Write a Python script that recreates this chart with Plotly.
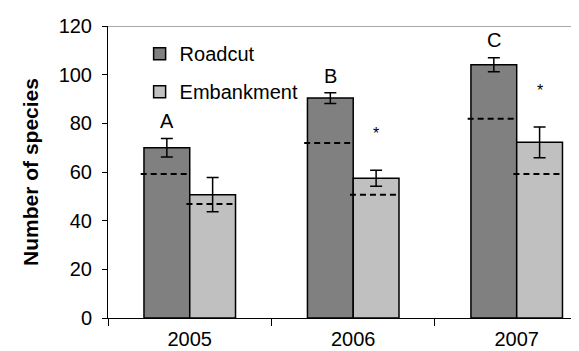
import plotly.graph_objects as go

years = ["2005", "2006", "2007"]
roadcut = [70, 90.4, 104.1]
roadcut_err = [3.8, 2.2, 2.9]
embankment = [50.7, 57.4, 72.2]
embankment_err = [7.0, 3.3, 6.3]
roadcut_dash = [59.2, 71.9, 81.9]
embankment_dash = [46.9, 50.7, 59.2]
roadcut_letters = ["A", "B", "C"]
roadcut_letter_y = [81, 99.3, 114.4]
embankment_marks = ["", "*", "*"]
embankment_mark_y = [0, 76, 93.5]

FONT = "Arial, Liberation Sans, sans-serif"
W = 0.28  # bar width in category units

fig = go.Figure()
fig.add_trace(go.Bar(
    name="Roadcut", x=years, y=roadcut, marker=dict(color="#808080", line=dict(color="black", width=1.5)),
    error_y=dict(type="data", array=roadcut_err, color="black", thickness=1.5, width=6),
    legendgroup="r",
))
fig.add_trace(go.Bar(
    name="Embankment", x=years, y=embankment, marker=dict(color="#c0c0c0", line=dict(color="black", width=1.5)),
    error_y=dict(type="data", array=embankment_err, color="black", thickness=1.5, width=6),
    legendgroup="e",
))

shapes = []
for i in range(len(years)):
    shapes.append(dict(type="line", xref="x", yref="y", x0=i - W - 0.02, x1=i, y0=roadcut_dash[i], y1=roadcut_dash[i],
                       line=dict(color="black", width=2, dash="6px,4px")))
    shapes.append(dict(type="line", xref="x", yref="y", x0=i - 0.02, x1=i + W, y0=embankment_dash[i], y1=embankment_dash[i],
                       line=dict(color="black", width=2, dash="6px,4px")))
shapes.append(dict(type="line", xref="paper", yref="y", x0=0, x1=1, y0=120, y1=120,
                   line=dict(color="#8c8c8c", width=1.5)))

annotations = []
for i in range(len(years)):
    annotations.append(dict(x=i - W / 2, y=roadcut_letter_y[i], xref="x", yref="y", text=roadcut_letters[i],
                            showarrow=False, font=dict(size=20, color="black", family=FONT)))
    if embankment_marks[i]:
        annotations.append(dict(x=i + W / 2, y=embankment_mark_y[i], xref="x", yref="y", text=embankment_marks[i],
                                showarrow=False, font=dict(size=16, color="black", family=FONT)))

fig.update_layout(
    width=579, height=351,
    margin=dict(l=100, r=0, t=18, b=41),
    paper_bgcolor="white", plot_bgcolor="white",
    barmode="group", bargap=0.44, bargroupgap=0,
    font=dict(family=FONT, size=20, color="black"),
    showlegend=True,
    legend=dict(x=0.066, y=0.972, xanchor="left", yanchor="top", bgcolor="rgba(0,0,0,0)",
                font=dict(size=20), traceorder="grouped", tracegroupgap=9),
    shapes=shapes, annotations=annotations,
    xaxis=dict(type="category", range=[-0.5, 2.43], tickson="boundaries", ticks="outside", ticklen=7,
               tickcolor="black", showline=True, linecolor="black", linewidth=1, showgrid=False,
               tickfont=dict(size=20), automargin=False, ticklabelstandoff=3),
    yaxis=dict(range=[0, 120], dtick=20, ticks="outside", ticklen=5, tickcolor="black",
               showline=True, linecolor="black", linewidth=1, showgrid=False, zeroline=False,
               tickfont=dict(size=20), automargin=False, ticklabelstandoff=6,
               title=dict(text="<b>Number of species</b>", font=dict(size=21), standoff=14)),
)

fig.write_html("out.html")
